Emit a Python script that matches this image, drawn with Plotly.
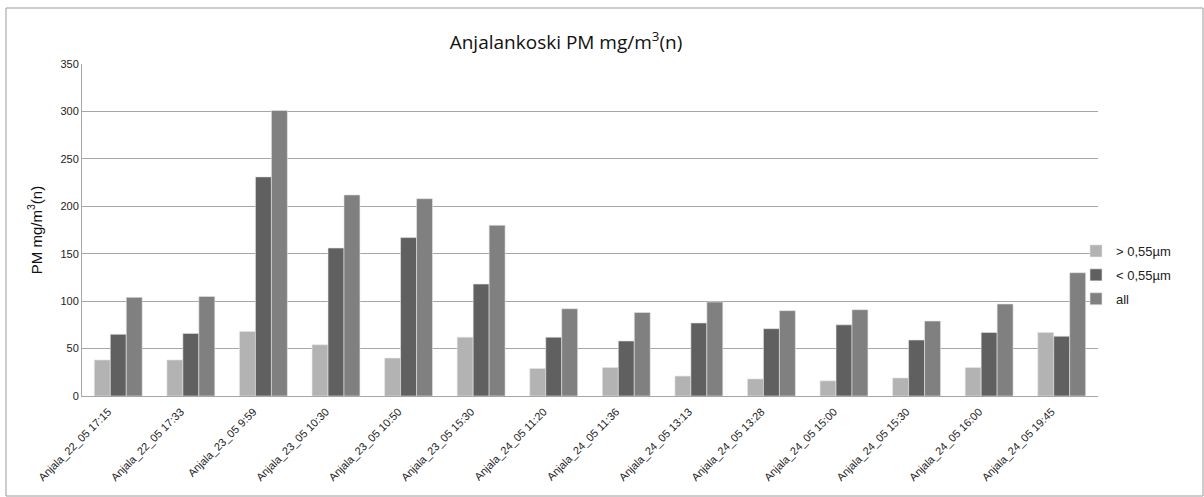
import plotly.graph_objects as go

categories = ["Anjala_22_05 17:15", "Anjala_22_05 17:33", "Anjala_23_05 9:59", "Anjala_23_05 10:30",
              "Anjala_23_05 10:50", "Anjala_23_05 15:30", "Anjala_24_05 11:20", "Anjala_24_05 11:36",
              "Anjala_24_05 13:13", "Anjala_24_05 13:28", "Anjala_24_05 15:00", "Anjala_24_05 15:30",
              "Anjala_24_05 16:00", "Anjala_24_05 19:45"]
above_055 = [38, 38, 68, 54, 40, 62, 29, 30, 21, 18, 16, 19, 30, 67]
below_055 = [65, 66, 231, 156, 167, 118, 62, 58, 77, 71, 75, 59, 67, 63]
all_pm = [104, 105, 301, 212, 208, 180, 92, 88, 99, 90, 91, 79, 97, 130]

series_names = ["> 0,55µm", "< 0,55µm", "all"]
series_colors = ["#b3b3b3", "#606060", "#808080"]

W, H = 1204, 497
L, R, T, B = 82, 1098, 64, 396

fig = go.Figure()
for i, (name, vals, col) in enumerate(zip(series_names, [above_055, below_055, all_pm], series_colors)):
    fig.add_trace(go.Bar(x=categories, y=vals, name=name, legendgroup="g%d" % i,
                         marker=dict(color=col, line=dict(color="#e6e6e6", width=0.6))))

pw, ph = R - L, B - T
fig.update_layout(
    width=W, height=H,
    margin=dict(l=L, r=W - R, t=T, b=H - B, pad=0),
    paper_bgcolor="white", plot_bgcolor="white",
    barmode="group", bargap=0.34, bargroupgap=0,
    font=dict(family="Liberation Sans, Arial, sans-serif", color="#222"),
    title=dict(text="Anjalankoski PM mg/m<sup>3</sup>(n)", x=566 / W, xanchor="center",
               y=1 - 42 / H, yanchor="middle", font=dict(size=19, color="#111", family="Open Sans, sans-serif")),
    legend=dict(x=(1076 - L) / pw, y=(B - 236) / ph, xanchor="left", yanchor="top",
                font=dict(size=13, color="#222"), bgcolor="rgba(0,0,0,0)",
                itemwidth=30, tracegroupgap=4),
    showlegend=True,
    shapes=[dict(type="rect", xref="paper", yref="paper",
                 x0=(6 - L) / pw, x1=(1203 - L) / pw, y0=(B - 496) / ph, y1=(B - 8) / ph,
                 line=dict(color="#9a9a9a", width=1), fillcolor="rgba(0,0,0,0)", layer="below")],
)
fig.update_yaxes(range=[0, 350], dtick=50, showgrid=True, gridcolor="#a6a6a6", gridwidth=1,
                 showline=True, linecolor="#a6a6a6", zeroline=False, ticks="",
                 tickfont=dict(size=11, color="#222"),
                 title=dict(text="PM mg/m<sup>3</sup>(n)", font=dict(size=15, color="#111"), standoff=14))
fig.update_xaxes(tickangle=-45, tickfont=dict(size=11, color="#222"), showline=True, linecolor="#a6a6a6",
                 ticks="", showgrid=False, ticklabelshift=-10, ticklabelstandoff=4)

fig.write_html("out.html")
